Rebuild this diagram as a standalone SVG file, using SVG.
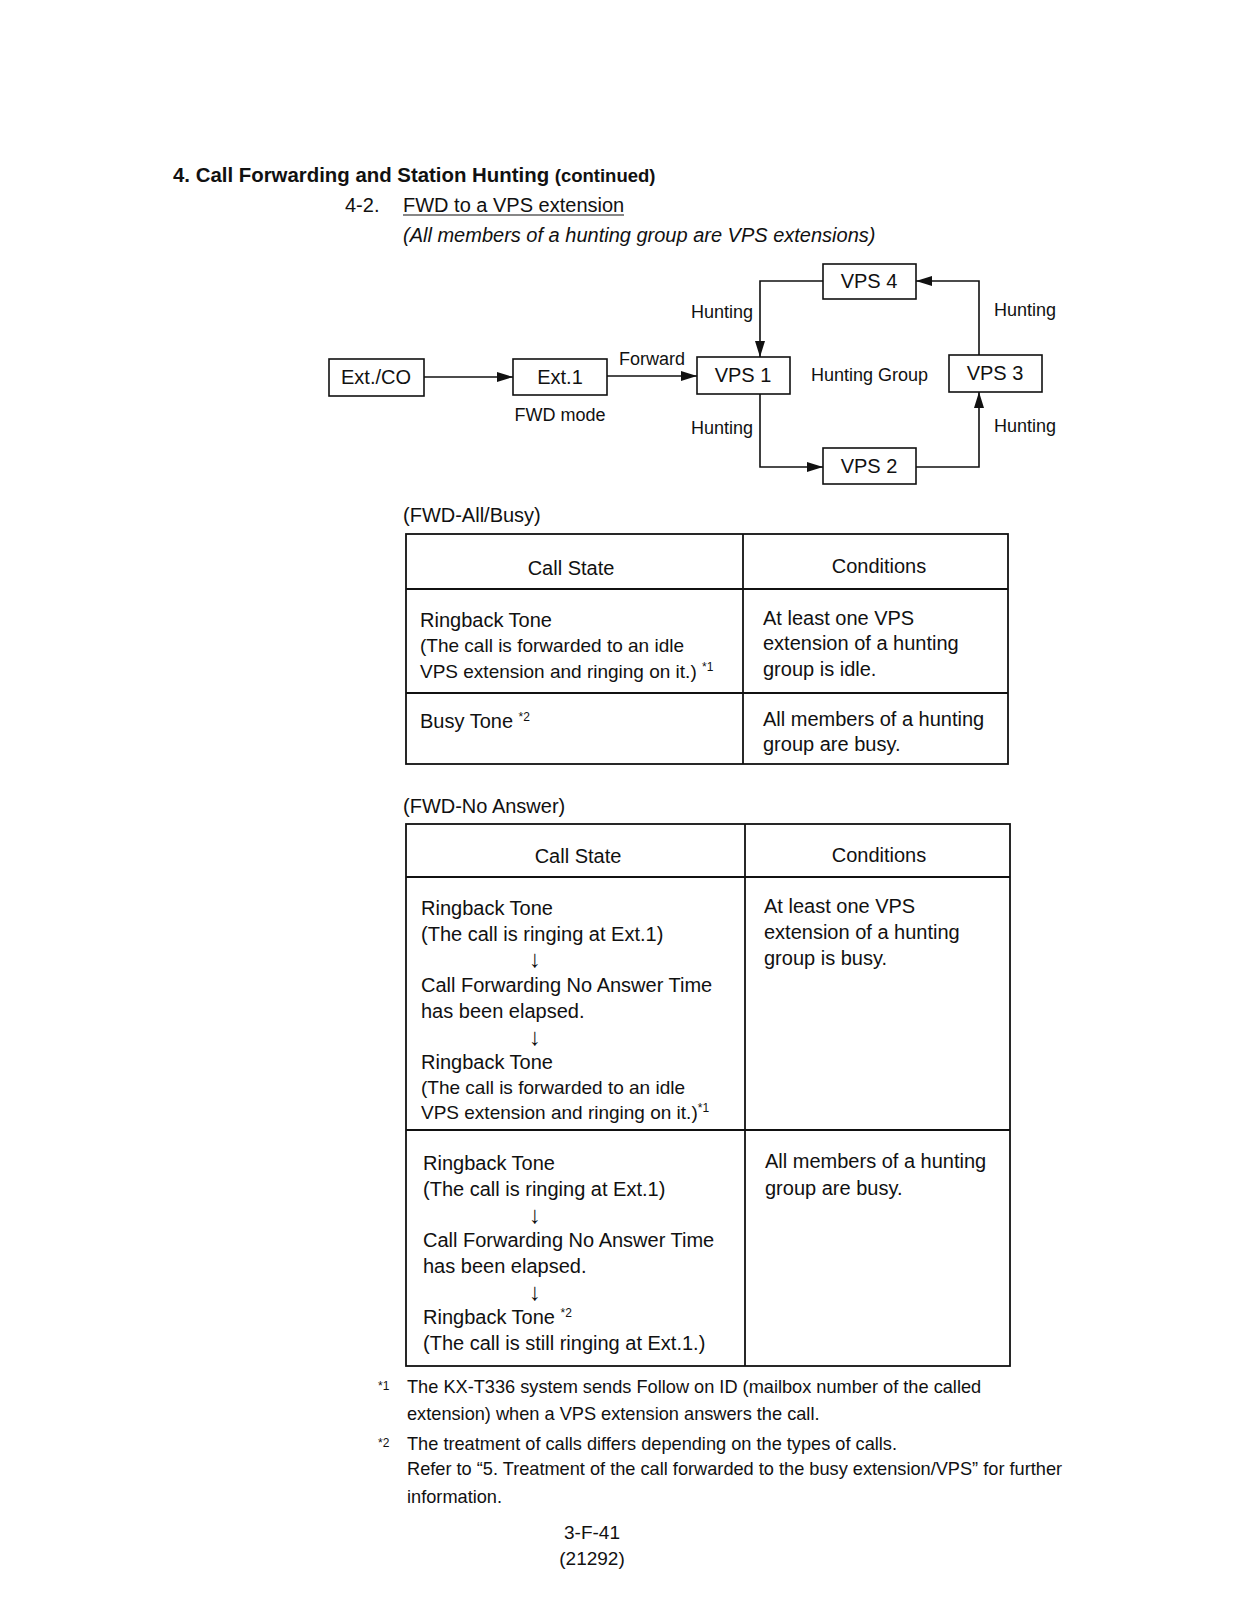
<svg xmlns="http://www.w3.org/2000/svg" width="1240" height="1599" viewBox="0 0 1240 1599">
<style>
text{font-family:"Liberation Sans",Arial,sans-serif;fill:#111}
.t20{font-size:20px}
.t19{font-size:19px}
.t18{font-size:18px}
.fn{font-size:18.2px}
.mid{text-anchor:middle}
.arr{font-size:24px}
.box{fill:#fff;stroke:#111;stroke-width:1.6}
.ln{fill:none;stroke:#111;stroke-width:1.6}
.tb{fill:none;stroke:#111;stroke-width:1.8}
.sup{font-size:12px}
</style>
<defs>
<marker id="ah" viewBox="0 0 16 10" refX="16" refY="5" markerWidth="16" markerHeight="10" markerUnits="userSpaceOnUse" orient="auto">
<path d="M0,0 L16,5 L0,10 Z" fill="#111"/>
</marker>
</defs>
<rect width="1240" height="1599" fill="#fff"/>

<g id="heading">
<text x="173" y="182" style="font-size:20.4px;font-weight:bold">4. Call Forwarding and Station Hunting <tspan style="font-size:18.5px">(continued)</tspan></text>
<text x="345" y="212" class="t20">4-2.</text>
<text x="403" y="212" class="t20">FWD to a VPS extension</text>
<line x1="403" y1="215" x2="624" y2="215" stroke="#111" stroke-width="1.2"/>
<text x="403" y="242" class="t20" style="font-style:italic">(All members of a hunting group are VPS extensions)</text>
</g>

<g id="connectors">
<line class="ln" x1="424" y1="377" x2="513" y2="377" marker-end="url(#ah)"/>
<line class="ln" x1="607" y1="376" x2="697" y2="376" marker-end="url(#ah)"/>
<path class="ln" d="M823,281 H760 V357" marker-end="url(#ah)"/>
<path class="ln" d="M760,394 V467 H823" marker-end="url(#ah)"/>
<path class="ln" d="M916,467 H979 V392" marker-end="url(#ah)"/>
<path class="ln" d="M979,355 V281 H916" marker-end="url(#ah)"/>
<text x="619" y="365" class="t18">Forward</text>
<text x="691" y="318" class="t18">Hunting</text>
<text x="691" y="434" class="t18">Hunting</text>
<text x="994" y="316" class="t18">Hunting</text>
<text x="994" y="432" class="t18">Hunting</text>
</g>

<g id="node-extco">
<rect class="box" x="329" y="359" width="95" height="37"/>
<text x="376" y="384" class="t20 mid">Ext./CO</text>
</g>
<g id="node-ext1">
<rect class="box" x="513" y="359" width="94" height="36"/>
<text x="560" y="384" class="t20 mid">Ext.1</text>
<text x="560" y="421" class="t18 mid">FWD mode</text>
</g>
<g id="node-vps1">
<rect class="box" x="697" y="357" width="93" height="37"/>
<text x="743" y="382" class="t20 mid">VPS 1</text>
</g>
<g id="node-vps2">
<rect class="box" x="823" y="448" width="93" height="36"/>
<text x="869" y="473" class="t20 mid">VPS 2</text>
</g>
<g id="node-vps3">
<rect class="box" x="949" y="355" width="93" height="37"/>
<text x="995" y="380" class="t20 mid">VPS 3</text>
</g>
<g id="node-vps4">
<rect class="box" x="823" y="264" width="93" height="35"/>
<text x="869" y="288" class="t20 mid">VPS 4</text>
</g>
<g id="hunting-group-label">
<text x="811" y="381" class="t18">Hunting Group</text>
</g>

<g id="table-fwd-all-busy">
<text x="403" y="522" class="t20">(FWD-All/Busy)</text>
<rect class="tb" x="406" y="534" width="602" height="230"/>
<line class="tb" x1="743" y1="534" x2="743" y2="764"/>
<line class="tb" x1="406" y1="589" x2="1008" y2="589"/>
<line class="tb" x1="406" y1="693" x2="1008" y2="693"/>
<text x="571" y="575" class="t20 mid">Call State</text>
<text x="879" y="573" class="t20 mid">Conditions</text>
<text x="420" y="627" class="t20">Ringback Tone</text>
<text x="420" y="652" class="t19">(The call is forwarded to an idle</text>
<text x="420" y="678" class="t19">VPS extension and ringing on it.) <tspan class="sup" dy="-7">*1</tspan></text>
<text x="763" y="625" class="t20">At least one VPS</text>
<text x="763" y="650" class="t20">extension of a hunting</text>
<text x="763" y="676" class="t20">group is idle.</text>
<text x="420" y="728" class="t20">Busy Tone <tspan class="sup" dy="-7">*2</tspan></text>
<text x="763" y="726" class="t20">All members of a hunting</text>
<text x="763" y="751" class="t20">group are busy.</text>
</g>

<g id="table-fwd-no-answer">
<text x="403" y="813" class="t20">(FWD-No Answer)</text>
<rect class="tb" x="406" y="824" width="604" height="542"/>
<line class="tb" x1="745" y1="824" x2="745" y2="1366"/>
<line class="tb" x1="406" y1="877" x2="1010" y2="877"/>
<line class="tb" x1="406" y1="1130" x2="1010" y2="1130"/>
<text x="578" y="863" class="t20 mid">Call State</text>
<text x="879" y="862" class="t20 mid">Conditions</text>
<text x="421" y="915" class="t20">Ringback Tone</text>
<text x="421" y="941" class="t20">(The call is ringing at Ext.1)</text>
<text x="535" y="967" class="arr mid">↓</text>
<text x="421" y="992" class="t20">Call Forwarding No Answer Time</text>
<text x="421" y="1018" class="t20">has been elapsed.</text>
<text x="535" y="1045" class="arr mid">↓</text>
<text x="421" y="1069" class="t20">Ringback Tone</text>
<text x="421" y="1094" class="t19">(The call is forwarded to an idle</text>
<text x="421" y="1119" class="t19">VPS extension and ringing on it.)<tspan class="sup" dy="-7">*1</tspan></text>
<text x="764" y="913" class="t20">At least one VPS</text>
<text x="764" y="939" class="t20">extension of a hunting</text>
<text x="764" y="965" class="t20">group is busy.</text>
<text x="423" y="1170" class="t20">Ringback Tone</text>
<text x="423" y="1196" class="t20">(The call is ringing at Ext.1)</text>
<text x="535" y="1223" class="arr mid">↓</text>
<text x="423" y="1247" class="t20">Call Forwarding No Answer Time</text>
<text x="423" y="1273" class="t20">has been elapsed.</text>
<text x="535" y="1300" class="arr mid">↓</text>
<text x="423" y="1324" class="t20">Ringback Tone <tspan class="sup" dy="-7">*2</tspan></text>
<text x="423" y="1350" class="t20">(The call is still ringing at Ext.1.)</text>
<text x="765" y="1168" class="t20">All members of a hunting</text>
<text x="765" y="1195" class="t20">group are busy.</text>
</g>

<g id="footnotes">
<text x="378" y="1390" class="sup">*1</text>
<text x="407" y="1393" class="fn">The KX-T336 system sends Follow on ID (mailbox number of the called</text>
<text x="407" y="1420" class="fn">extension) when a VPS extension answers the call.</text>
<text x="378" y="1447" class="sup">*2</text>
<text x="407" y="1450" class="fn">The treatment of calls differs depending on the types of calls.</text>
<text x="407" y="1475" class="fn">Refer to “5. Treatment of the call forwarded to the busy extension/VPS” for further</text>
<text x="407" y="1503" class="fn">information.</text>
<text x="592" y="1539" class="t19 mid">3-F-41</text>
<text x="592" y="1565" class="t19 mid">(21292)</text>
</g>
</svg>
